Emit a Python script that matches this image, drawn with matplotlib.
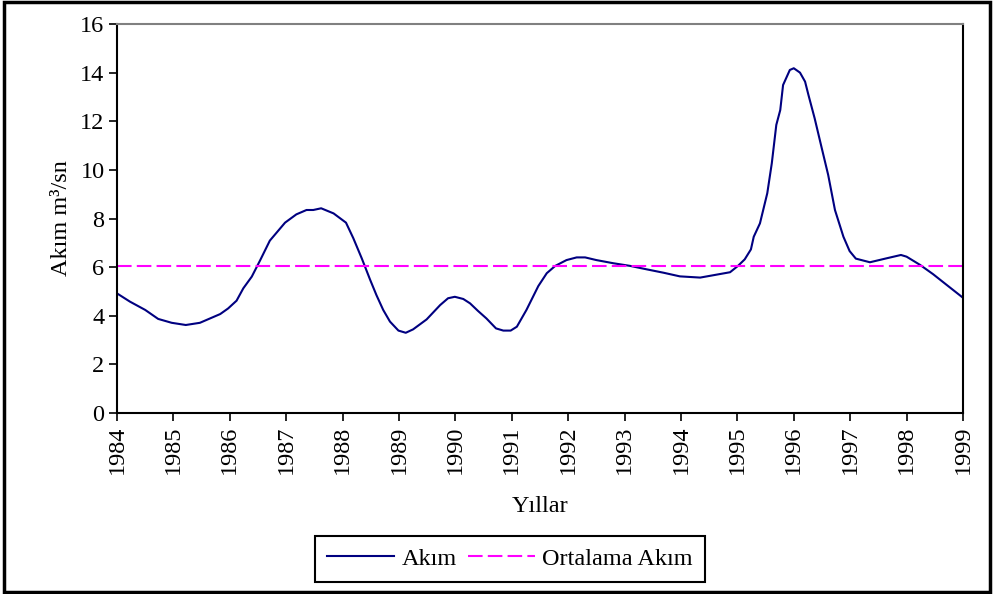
import numpy as np
import matplotlib.pyplot as plt
from matplotlib.patches import Rectangle

plt.rcParams['font.family'] = ['Liberation Serif', 'DejaVu Serif']

years = [1984.0, 1984.23, 1984.5, 1984.73, 1984.97, 1985.22, 1985.47, 1985.65, 1985.83,
         1985.97, 1986.12, 1986.24, 1986.39, 1986.54, 1986.71, 1986.98, 1987.18, 1987.36,
         1987.48, 1987.62, 1987.84, 1988.06, 1988.19, 1988.34, 1988.49, 1988.6, 1988.72,
         1988.84, 1988.99, 1989.12, 1989.25, 1989.49, 1989.73, 1989.87, 1989.99, 1990.14,
         1990.26, 1990.4, 1990.55, 1990.72, 1990.85, 1990.98, 1991.09, 1991.26, 1991.47,
         1991.62, 1991.77, 1991.97, 1992.15, 1992.3, 1992.5, 1992.8, 1993.1, 1993.39,
         1993.69, 1993.98, 1994.34, 1994.87, 1995.01, 1995.13, 1995.24, 1995.29, 1995.4,
         1995.53, 1995.61, 1995.69, 1995.76, 1995.81, 1995.93, 1996.0, 1996.11, 1996.2,
         1996.26, 1996.37, 1996.49, 1996.61, 1996.73, 1996.88, 1996.99, 1997.1, 1997.35,
         1997.64, 1997.9, 1998.0, 1998.24, 1998.47, 1998.71, 1999.0]
akim = [4.92, 4.58, 4.24, 3.87, 3.71, 3.62, 3.71, 3.89, 4.07,
        4.30, 4.62, 5.13, 5.61, 6.29, 7.09, 7.83, 8.17, 8.35,
        8.35, 8.42, 8.21, 7.83, 7.19, 6.36, 5.47, 4.85, 4.24,
        3.76, 3.39, 3.30, 3.44, 3.85, 4.44, 4.72, 4.78, 4.69,
        4.51, 4.20, 3.89, 3.48, 3.39, 3.39, 3.55, 4.24, 5.22,
        5.75, 6.05, 6.29, 6.40, 6.40, 6.29, 6.16, 6.05, 5.91,
        5.77, 5.62, 5.57, 5.79, 6.05, 6.32, 6.73, 7.25, 7.80,
        9.04, 10.27, 11.85, 12.46, 13.49, 14.11, 14.18, 14.0, 13.63,
        13.08, 12.12, 10.95, 9.79, 8.35, 7.25, 6.66, 6.35, 6.20,
        6.36, 6.50, 6.43, 6.09, 5.71, 5.27, 4.74]
ortalama = 6.05
xticks = list(range(1984, 2000))
yticks = list(range(0, 17, 2))

fig = plt.figure(figsize=(9.94, 5.94), dpi=100)
ax = fig.add_axes([0.1177, 0.3047, 0.8511, 0.6549])

ax.plot(years, akim, color='#000080', lw=1.5, label='Akım')
ax.plot([years[0], years[-1]], [ortalama, ortalama], color='#FF00FF', lw=1.5,
        dashes=(7, 2.5), label='Ortalama Akım')

ax.set_xlim(1984, 1999)
ax.set_ylim(0, 16)
ax.set_xticks(xticks)
ax.set_xticklabels([str(x) for x in xticks], rotation=90, fontsize=17.5)
ax.set_yticks(yticks)
ax.set_yticklabels([str(y) for y in yticks], fontsize=17.5)
ax.tick_params(direction='out', length=6, width=1.2, color='black', pad=3)
for s in ['left', 'bottom', 'right']:
    ax.spines[s].set_color('black')
    ax.spines[s].set_linewidth(1.5)
ax.spines['top'].set_color('#808080')
ax.spines['top'].set_linewidth(1.5)

ax.set_ylabel('Akım m³/sn', fontsize=17.5, labelpad=6)
ax.set_xlabel('Yıllar', fontsize=17.5, labelpad=16)

fig.legend(loc='center', bbox_to_anchor=(0.513, 0.059), ncol=2, fontsize=17.5,
           frameon=True, fancybox=False, edgecolor='black', framealpha=1,
           handlelength=2.75, handletextpad=0.3, columnspacing=0.45, borderpad=0.5)
leg = fig.legends[0]
leg.get_frame().set_linewidth(1.5)

fig.patches.append(Rectangle((0.004, 0.003), 0.992, 0.994, transform=fig.transFigure,
                             fill=False, edgecolor='black', lw=2.5))

plt.savefig('out.png', dpi=100)
